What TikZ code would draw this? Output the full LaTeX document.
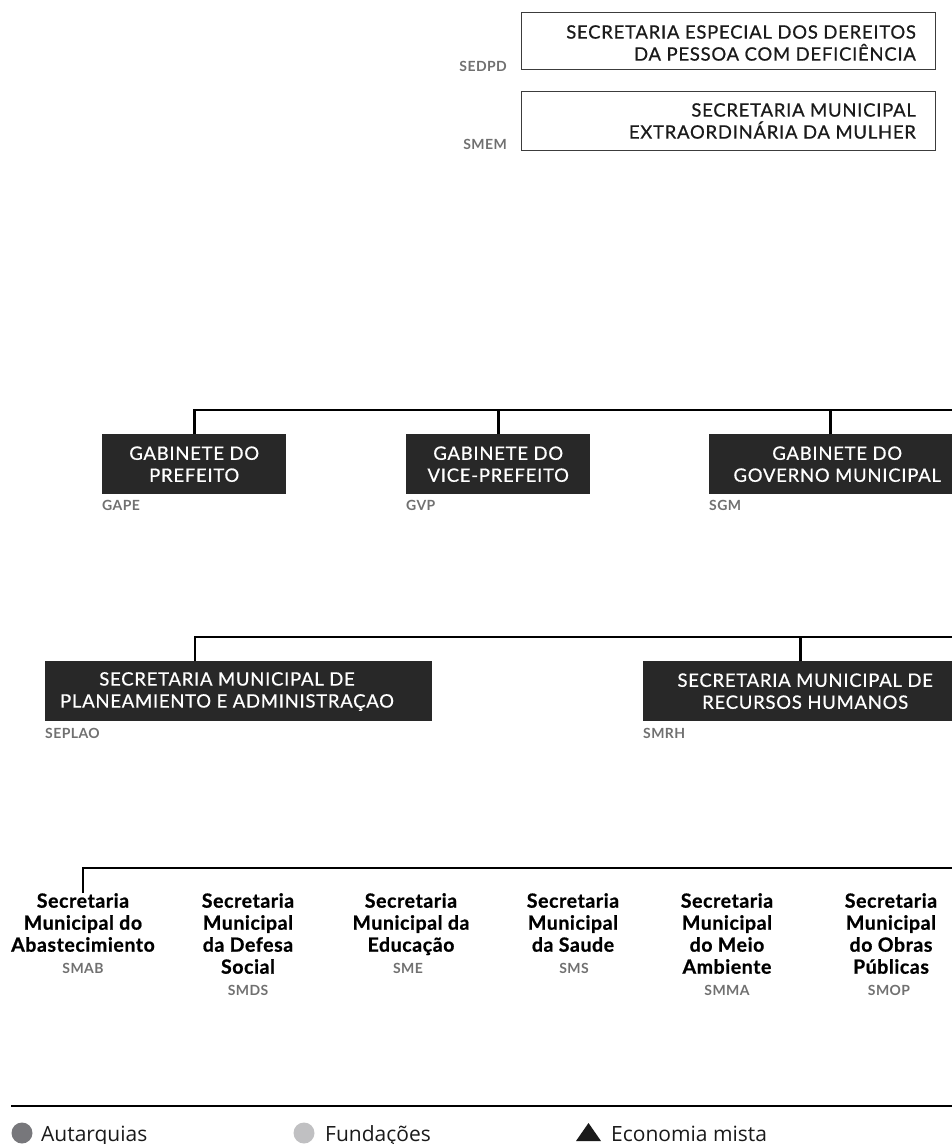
\documentclass[tikz,border=0pt]{standalone}
\usepackage{fontspec}
\setmainfont{Lato}
\newfontfamily\boxfont{Lato}[LetterSpace=4, FakeBold=0.6]
\newfontfamily\lblfont{Lato}[LetterSpace=3]
\newfontfamily\secfont{Lato}[LetterSpace=3, BoldFeatures={FakeBold=0.9}]
\newfontfamily\legfont{Open Sans}
\definecolor{boxdark}{HTML}{282828}
\definecolor{lblgrey}{HTML}{707070}
\definecolor{autgrey}{HTML}{77777B}
\definecolor{fungrey}{HTML}{C0C0C2}
\definecolor{txtdark}{HTML}{1A1A1A}
\definecolor{framegrey}{HTML}{3C3C3C}
\begin{document}
\begin{tikzpicture}[x=1pt,y=-1pt,
  topbox/.style={draw=framegrey, line width=1.4pt, minimum width=414pt, inner sep=0pt, anchor=north west},
  boxtext/.style={font=\boxfont\fontsize{18.5}{22}\selectfont, text=txtdark, inner sep=0pt},
  darkbox/.style={fill=boxdark, text=white, font=\boxfont\fontsize{18.5}{22}\selectfont, align=center, inner sep=0pt, minimum height=60pt, anchor=north west},
  code/.style={font=\lblfont\bfseries\fontsize{14}{16}\selectfont, text=lblgrey, inner sep=0pt},
  sectext/.style={font=\secfont\bfseries\fontsize{19.5}{22}\selectfont, text=black, align=center, inner sep=0pt, anchor=north},
  conn/.style={line width=2.6pt, black},
  legtext/.style={font=\legfont\fontsize{21}{24}\selectfont, text=txtdark, inner sep=0pt, anchor=base west},
  dot/.style={circle, inner sep=0pt, minimum size=21pt}
]
\useasboundingbox (0,0) rectangle (952,1144);

% top boxes
\node[topbox, minimum height=57pt] (sedpd) at (521,12) {};
\node[boxtext, align=right, anchor=east] (sedpdt) at (916,43) {SECRETARIA ESPECIAL DOS DEREITOS\\DA PESSOA COM DEFICIÊNCIA};
\node[code, anchor=base east] (sedpdc) at (507,71) {SEDPD};
\node[topbox, minimum height=59pt] (smem) at (521,91) {};
\node[boxtext, align=right, anchor=east] (smemt) at (916,121) {SECRETARIA MUNICIPAL\\EXTRAORDINÁRIA DA MULHER};
\node[code, anchor=base east] (smemc) at (507,149) {SMEM};

% gabinete row
\node[darkbox, minimum width=184pt] (gape) at (102,434) {GABINETE DO\\PREFEITO};
\node[darkbox, minimum width=184pt] (gvp) at (406,434) {GABINETE DO\\VICE-PREFEITO};
\node[darkbox, minimum width=256pt] (sgm) at (709,434) {GABINETE DO\\GOVERNO MUNICIPAL};
\node[code, anchor=base west] (gapec) at (102,510) {GAPE};
\node[code, anchor=base west] (gvpc) at (406,510) {GVP};
\node[code, anchor=base west] (sgmc) at (709,510) {SGM};
\coordinate (bus1) at (960,410);
\draw[conn] (gape.north) |- (bus1);
\draw[conn] (gvp.north) -- (gvp.north |- bus1);
\draw[conn] ([xshift=-7pt]sgm.north) -- ([xshift=-7pt]sgm.north |- bus1);

% secretaria row
\node[darkbox, minimum width=387pt] (seplao) at (45,661) {};
\node[boxtext, text=white, align=center] (seplaot) at (227,691.5) {SECRETARIA MUNICIPAL DE\\PLANEAMIENTO E ADMINISTRAÇAO};
\node[darkbox, minimum width=324pt] (smrh) at (643,661) {SECRETARIA MUNICIPAL DE\\RECURSOS HUMANOS};
\node[code, anchor=base west] (seplaoc) at (45,738) {SEPLAO};
\node[code, anchor=base west] (smrhc) at (643,738) {SMRH};
\coordinate (bus2) at (960,637);
\draw[conn] ([xshift=150pt]seplao.north west) |- (bus2);
\draw[conn] ([xshift=-5pt]smrh.north) -- ([xshift=-5pt]smrh.north |- bus2);

% bottom row
\node[sectext] (smab) at (83,893) {Secretaria\\Municipal do\\Abastecimiento};
\node[sectext] (smds) at (248,893) {Secretaria\\Municipal\\da Defesa\\Social};
\node[sectext] (sme) at (411,893) {Secretaria\\Municipal da\\Educação};
\node[sectext] (sms) at (573,893) {Secretaria\\Municipal\\da Saude};
\node[sectext] (smma) at (727,893) {Secretaria\\Municipal\\do Meio\\Ambiente};
\node[sectext] (smop) at (891,893) {Secretaria\\Municipal\\do Obras\\Públicas};
\node[code, anchor=base] (smabc) at (83,973) {SMAB};
\node[code, anchor=base] (smdsc) at (248,995) {SMDS};
\node[code, anchor=base] (smec) at (408,973) {SME};
\node[code, anchor=base] (smsc) at (574,973) {SMS};
\node[code, anchor=base] (smmac) at (727,995) {SMMA};
\node[code, anchor=base] (smopc) at (889,995) {SMOP};
\coordinate (bus3) at (960,868);
\draw[conn] (smab.north) |- (bus3);

% legend
\coordinate (legl) at (11,1106);
\coordinate (legr) at (960,1106);
\draw[line width=2.7pt] (legl) -- (legr);
\node[dot, fill=autgrey] (autdot) at (22,1133) {};
\node[legtext] (aut) at (41,1141) {Autarquias};
\node[dot, fill=fungrey] (fundot) at (304,1133) {};
\node[legtext] (fun) at (325,1141) {Fundações};
\fill[txtdark] (576,1141) -- (601,1141) -- (588.5,1123) -- cycle;
\node[legtext] (eco) at (611,1141) {Economia mista};
\end{tikzpicture}
\end{document}
